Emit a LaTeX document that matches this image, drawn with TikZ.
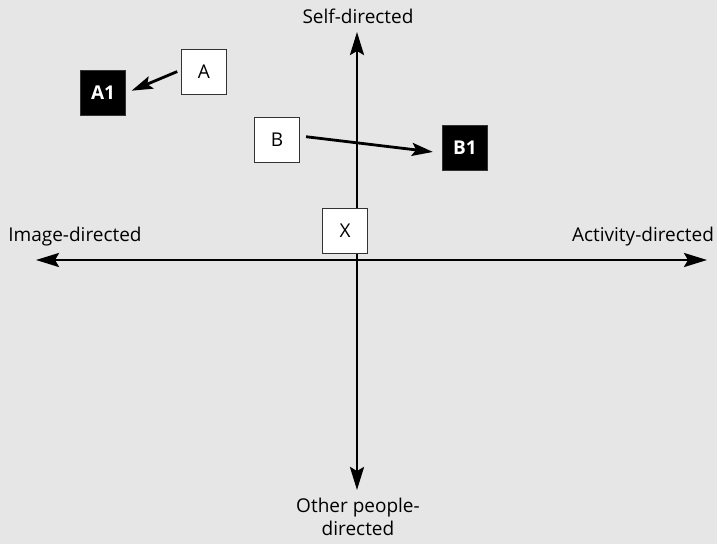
\documentclass[tikz,border=0pt]{standalone}
\usepackage{fontspec}
\setmainfont{Open Sans}
\usetikzlibrary{arrows.meta,positioning}
\definecolor{PanelGray}{HTML}{E6E6E6}
\definecolor{BoxEdge}{HTML}{333333}

\begin{document}
\begin{tikzpicture}[
          x=1pt, y=-1pt,
          every node/.style={font=\fontsize{19}{23}\selectfont},
          axis/.style={line width=2.8pt, {Stealth[length=23pt,width=14pt,inset=4pt]}-{Stealth[length=23pt,width=14pt,inset=4pt]}},
          link/.style={line width=2.8pt, -{Stealth[length=21pt,width=13pt,inset=4pt]}},
          plainbox/.style={draw=BoxEdge, line width=1.2pt, fill=white, minimum width=45pt, minimum height=45pt, inner sep=0pt},
          darkbox/.style={plainbox, fill=black, text=white, font=\fontsize{19}{20}\selectfont\bfseries}
        ]
          \fill[PanelGray] (0,0) rectangle (717,544);
          \useasboundingbox (0,0) rectangle (717,544);

          % axes
          \coordinate (top) at (357,32);
          \coordinate (bottom) at (357,490);
          \coordinate (left) at (36,260);
          \coordinate (right) at (707,260);
          \draw[axis] (top) -- (bottom);
          \draw[axis] (left) -- (right);

          \node (self) at (358,16) {Self-directed};
          \node (image) at (75,237) {Image-directed};
          \node (activity) at (643,237) {Activity-directed};
          \node[align=center] (other) at (358,517) {Other people-\\directed};

          % boxes
          \node[plainbox] (X) at (345,231) {X};
          \node[plainbox] (A) at (204,72) {A};
          \node[darkbox] (A1) at (103,93) {A1};
          \node[plainbox] (B) at (277,140) {B};
          \node[darkbox] (B1) at (465,148) {B1};

          \draw[link, shorten <=4pt, shorten >=6pt] ([yshift=2pt]A.west) -- (A1.east);
          \draw[link, shorten <=6pt, shorten >=9pt] ([yshift=4pt]B.east) -- ([yshift=-5pt]B1.west);
        \end{tikzpicture}
\end{document}
